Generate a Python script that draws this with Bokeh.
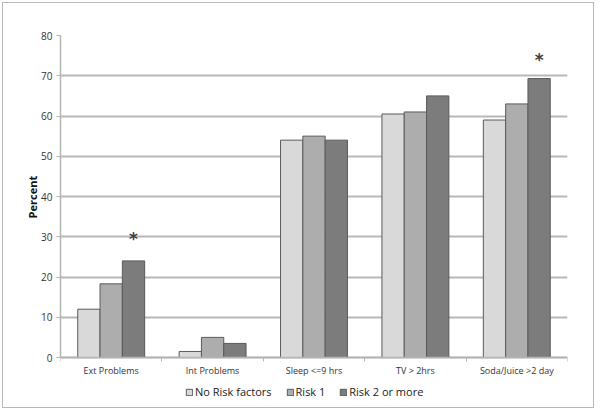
from bokeh.plotting import figure
from bokeh.models import ColumnDataSource, Legend, LegendItem, FixedTicker, Range1d, CustomJSTickFormatter
from bokeh.core.properties import value
from bokeh.embed import file_html
from bokeh.resources import INLINE

categories = ["Ext Problems", "Int Problems", "Sleep <=9 hrs", "TV > 2hrs", "Soda/Juice >2 day"]
series_names = ["No Risk factors", "Risk 1", "Risk 2 or more"]
no_risk = [12.0, 1.5, 54.0, 60.5, 59.0]
risk_1 = [18.3, 5.0, 55.0, 61.0, 63.0]
risk_2 = [24.0, 3.5, 54.0, 65.0, 69.3]
sig_categories = ["Ext Problems", "Soda/Juice >2 day"]
sig_y = [29.5, 74.0]
y_ticks = [0, 10, 20, 30, 40, 50, 60, 70, 80]
y_title = "Percent"

colors = ["#d9d9d9", "#adadad", "#7c7c7c"]
FONT = "Open Sans"

# layout (pixels)
W, H = 592, 406
left, right, top, bottom = 57, 28, 32, 5
axis_px = 322                      # pixels from 0 to 80
frame_h = H - top - bottom
y_max = y_ticks[-1]
y_min = -(frame_h - axis_px) * y_max / axis_px

p = figure(width=W, height=H, output_backend="svg", toolbar_location=None,
           x_range=Range1d(0, len(categories)), y_range=Range1d(y_min, y_max),
           min_border_left=left, min_border_right=right, min_border_top=top,
           min_border_bottom=bottom,
           styles={"border": "1.5px solid #b8b8b8", "margin": "2px"})
p.outline_line_color = None
p.background_fill_color = "white"
p.border_fill_color = "white"

centers = [i + 0.5 for i in range(len(categories))]
bw = 0.22
renderers = []
for j, vals in enumerate([no_risk, risk_1, risk_2]):
    src = ColumnDataSource(dict(x=[c + (j - 1) * bw for c in centers], top=vals))
    r = p.vbar(x="x", top="top", width=bw, bottom=0, source=src,
               fill_color=colors[j], line_color="#5a5a5a", line_width=1)
    renderers.append(r)

sx = [centers[categories.index(c)] + bw for c in sig_categories]
p.text(x=sx, y=sig_y, text=["*"] * len(sx), text_align="center", text_baseline="middle",
       text_font=value("DejaVu Sans"), text_font_size="17px", text_font_style="bold",
       text_color="#404040")

# grid
p.xgrid.grid_line_color = None
p.ygrid.ticker = FixedTicker(ticks=y_ticks)
p.ygrid.grid_line_color = "#b8b8b8"
p.ygrid.grid_line_width = 2

# y axis
p.yaxis.ticker = FixedTicker(ticks=y_ticks)
p.yaxis.bounds = (0, y_max)
p.yaxis.axis_line_color = "#b4b4b4"
p.yaxis.axis_line_width = 1.5
p.yaxis.major_tick_line_color = "#b4b4b4"
p.yaxis.major_tick_in = 0
p.yaxis.major_tick_out = 4
p.yaxis.minor_tick_line_color = None
p.yaxis.major_label_text_font = FONT
p.yaxis.major_label_text_font_size = "10px"
p.yaxis.major_label_text_color = "#333333"
p.yaxis.major_label_standoff = 4
# leading no-break spaces lift the title to the middle of the 0-80 span
p.yaxis.axis_label = "\u00a0" * 16 + y_title
p.yaxis.axis_label_text_font = FONT
p.yaxis.axis_label_text_font_size = "11px"
p.yaxis.axis_label_text_font_style = "bold"
p.yaxis.axis_label_text_color = "#111111"
p.yaxis.axis_label_standoff = -2

# x axis, drawn at y = 0 inside the frame
p.xaxis.fixed_location = 0
p.xaxis.ticker = FixedTicker(ticks=centers, minor_ticks=list(range(len(categories) + 1)))
p.xaxis.formatter = CustomJSTickFormatter(args=dict(labels=categories),
                                          code="return labels[Math.floor(tick)];")
p.xaxis.axis_line_color = "#b4b4b4"
p.xaxis.axis_line_width = 1.5
p.xaxis.major_tick_line_color = None
p.xaxis.minor_tick_line_color = "#b4b4b4"
p.xaxis.minor_tick_in = 0
p.xaxis.minor_tick_out = 4
p.xaxis.major_label_text_font = FONT
p.xaxis.major_label_text_font_size = "9px"
p.xaxis.major_label_text_color = "#333333"
p.xaxis.major_label_standoff = 0

legend = Legend(items=[LegendItem(label=n, renderers=[r]) for n, r in zip(series_names, renderers)],
                orientation="horizontal", location=(125, 5),
                label_text_font=FONT, label_text_font_size="11px", label_text_color="#222222",
                glyph_width=8, glyph_height=8, label_standoff=2, spacing=14,
                padding=2, margin=0, border_line_color=None, background_fill_alpha=0)
p.add_layout(legend, "center")

open("out.html", "w").write(file_html(p, INLINE))
